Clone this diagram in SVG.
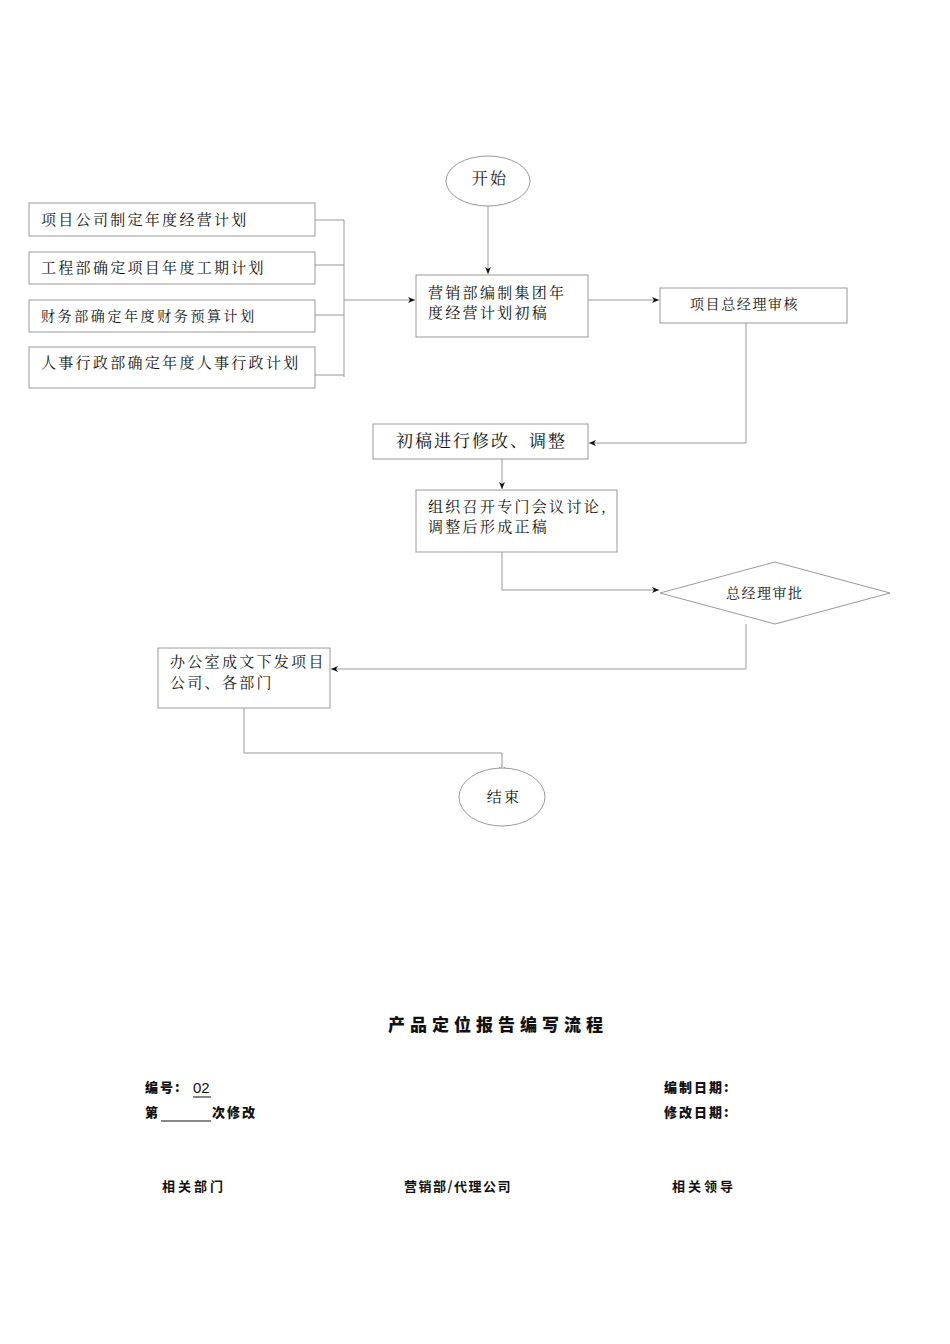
<svg xmlns="http://www.w3.org/2000/svg" width="950" height="1344" viewBox="0 0 950 1344">
<style>
.b{fill:#fff;stroke:#999;stroke-width:1}
.l{fill:none;stroke:#999;stroke-width:1}
.t{font-family:"Noto Serif CJK SC","Noto Sans CJK SC",serif;font-size:15px;fill:#111;letter-spacing:2.3px}
.h{font-family:"Noto Sans CJK SC",sans-serif;font-weight:900;font-size:13px;fill:#111;letter-spacing:2px}
</style>
<defs><marker id="a" markerWidth="8" markerHeight="8" refX="7" refY="4" orient="auto" markerUnits="userSpaceOnUse"><path d="M0,1 L7,4 L0,7 L2,4 Z" fill="#111"/></marker></defs>
<rect width="950" height="1344" fill="#fff"/>
<g id="connectors">
<path class="l" d="M488,206 V274" marker-end="url(#a)"/>
<path class="l" d="M315,220 H344 M315,265 H344 M315,315 H344 M315,375 H344 M344,220 V377"/>
<path class="l" d="M344,300 H415" marker-end="url(#a)"/>
<path class="l" d="M588,300 H659" marker-end="url(#a)"/>
<path class="l" d="M746,323 V443 H589" marker-end="url(#a)"/>
<path class="l" d="M502,459 V489" marker-end="url(#a)"/>
<path class="l" d="M502,552 V590 H659" marker-end="url(#a)"/>
<path class="l" d="M746,624 V669 H331" marker-end="url(#a)"/>
<path class="l" d="M244,708 V753 H502 V774" marker-end="url(#a)"/>
</g>
<g id="start"><ellipse class="b" cx="488" cy="181" rx="42" ry="25"/><text class="t" x="490" y="177" text-anchor="middle" dominant-baseline="central" style="font-size:16px">开始</text></g>
<g id="n1"><rect class="b" x="29" y="203" width="286" height="33"/><text class="t" x="41" y="225">项目公司制定年度经营计划</text></g>
<g id="n2"><rect class="b" x="29" y="252" width="286" height="32"/><text class="t" x="41" y="273">工程部确定项目年度工期计划</text></g>
<g id="n3"><rect class="b" x="29" y="300" width="286" height="32"/><text class="t" x="41" y="321" style="font-size:14px;letter-spacing:2.6px">财务部确定年度财务预算计划</text></g>
<g id="n4"><rect class="b" x="29" y="347" width="286" height="41"/><text class="t" x="41" y="368">人事行政部确定年度人事行政计划</text></g>
<g id="n5"><rect class="b" x="416" y="275" width="172" height="62"/><text class="t" x="428" y="298">营销部编制集团年</text><text class="t" x="428" y="318">度经营计划初稿</text></g>
<g id="n6"><rect class="b" x="660" y="288" width="187" height="35"/><text class="t" x="690" y="309" style="font-size:14px;letter-spacing:1.6px">项目总经理审核</text></g>
<g id="n7"><rect class="b" x="373" y="424" width="215" height="35"/><text class="t" x="396" y="447" style="font-size:17px;letter-spacing:2px">初稿进行修改、调整</text></g>
<g id="n8"><rect class="b" x="416" y="490" width="201" height="62"/><text class="t" x="428" y="512">组织召开专门会议讨论,</text><text class="t" x="428" y="532">调整后形成正稿</text></g>
<g id="n9"><polygon class="b" points="660,593 775,562 890,593 775,624"/><text class="t" x="726" y="598" style="font-size:14px;letter-spacing:1.5px">总经理审批</text></g>
<g id="n10"><rect class="b" x="158" y="648" width="172" height="60"/><text class="t" x="170" y="667">办公室成文下发项目</text><text class="t" x="170" y="688">公司、各部门</text></g>
<g id="end"><ellipse class="b" cx="502" cy="797" rx="43" ry="29"/><text class="t" x="504" y="795" text-anchor="middle" dominant-baseline="central">结束</text></g>
<g id="footer">
<text class="h" x="388" y="1031" style="font-size:17px;letter-spacing:5px">产品定位报告编写流程</text>
<text class="h" x="145" y="1092">编号:</text>
<text x="193" y="1093" font-family="Liberation Sans Narrow,Liberation Sans,sans-serif" font-size="15" fill="#111">02</text>
<path d="M193,1097 H211 M161,1121 H211" stroke="#111" stroke-width="1"/>
<text class="h" x="145" y="1117">第</text>
<text class="h" x="212" y="1117">次修改</text>
<text class="h" x="664" y="1092">编制日期:</text>
<text class="h" x="664" y="1117">修改日期:</text>
<text class="h" x="162" y="1191" style="font-weight:bold;letter-spacing:3px">相关部门</text>
<text class="h" x="404" y="1191" style="font-weight:bold;letter-spacing:1.5px">营销部/代理公司</text>
<text class="h" x="672" y="1191" style="font-weight:bold;letter-spacing:3px">相关领导</text>
</g>
</svg>
